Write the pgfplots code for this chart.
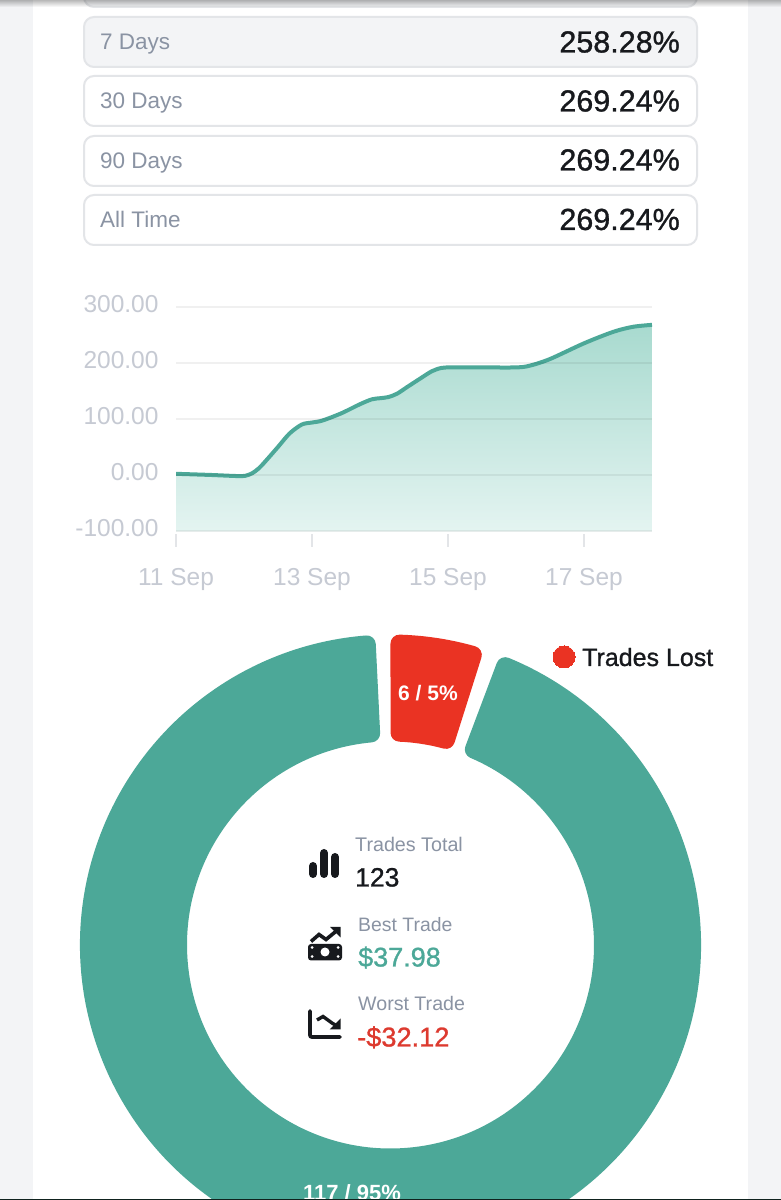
\documentclass[border=0pt]{standalone}
\usepackage{fontspec}
\setmainfont{Liberation Sans}
\newfontfamily\med[FakeBold=1]{Liberation Sans}
\usepackage{pgfplots}
\pgfplotsset{compat=1.18}
\usepackage{pgfplotstable}
\usetikzlibrary{fadings}
\definecolor{teal1}{HTML}{4CA898}
\definecolor{red1}{HTML}{EA3323}
\definecolor{redt}{HTML}{DD3A2F}
\definecolor{greyt}{HTML}{8A93A3}
\definecolor{axt}{HTML}{C6CAD3}
\definecolor{ink}{HTML}{17191D}
\definecolor{pagebg}{HTML}{F3F4F6}
\definecolor{boxln}{HTML}{E3E5E8}
\definecolor{shtop}{HTML}{A8DACF}
\definecolor{shbot}{HTML}{E4F4F1}
\pgfplotstableread{
d v
0 3
0.5 1
0.9 -1
1.02 -0.5
1.12 4
1.22 13
1.32 26
1.5 51
1.67 75
1.85 91
2 94.6
2.15 98
2.43 111
2.7 127
2.88 136
3 138
3.12 140
3.25 146
3.4 158
3.59 173
3.76 186
3.9 192
4.05 193
4.5 193
5 193
5.2 196
5.5 208
6 236
6.43 256.5
6.72 265.5
7 269
}\curvedata
\newcommand\T[6][base west]{\node[anchor=#1,inner sep=0pt,text=#5] at (#2,#3) {\fontsize{#4}{#4}\selectfont #6};}
\newcommand\seg[3]{%
 \pgfmathsetmacro\ta{90-(#2+1.71)}%
 \pgfmathsetmacro\tb{90-(#3-1.71)}%
 \pgfmathsetmacro\tc{90-(#3-2.43)}%
 \pgfmathsetmacro\td{90-(#2+2.43)}%
 \pgfmathsetmacro\xa{390.5+301.5*cos(\ta)}%
 \pgfmathsetmacro\ya{255+301.5*sin(\ta)}%
 \pgfmathsetmacro\xc{390.5+212.5*cos(\tc)}%
 \pgfmathsetmacro\yc{255+212.5*sin(\tc)}%
 \edef\temp{\noexpand\path[fill=#1,draw=#1,line width=18pt,line join=round] (axis cs:\xa,\ya) arc[start angle=\ta,end angle=\tb,radius=301.5pt] -- (axis cs:\xc,\yc) arc[start angle=\tc,end angle=\td,radius=212.5pt] -- cycle;}\temp}
\begin{document}
\begin{tikzpicture}[x=1pt,y=1pt]
\path[use as bounding box] (0,0) rectangle (781,1200);
\clip (0,0) rectangle (781,1200);
\fill[pagebg] (0,0) rectangle (781,1200);
\fill[white] (33,0) rectangle (748,1200);
\begin{scope}[shift={(0,1200)},yscale=-1]
 \foreach \a/\b/\c in {-30/7/pagebg,17/67/pagebg,76/126/white,136/186/white,195/245/white}{
  \path[fill=\c,draw=boxln,line width=2pt,rounded corners=10pt] (84,\a) rectangle (697,\b);
 }
 \T{100}{50}{22.5}{greyt}{7 Days}
 \T{100}{109}{22.5}{greyt}{30 Days}
 \T{100}{168.5}{22.5}{greyt}{90 Days}
 \T{100}{228}{22.5}{greyt}{All Time}
 \T[base east]{680}{52.5}{30.5}{ink}{\med 258.28\%}
 \T[base east]{680}{111.5}{30.5}{ink}{\med 269.24\%}
 \T[base east]{680}{170.5}{30.5}{ink}{\med 269.24\%}
 \T[base east]{680}{230}{30.5}{ink}{\med 269.24\%}
 \fill[black,opacity=.28,path fading=south] (0,0) rectangle (781,7);
\end{scope}
% line chart
\begin{axis}[at={(176pt,668.5pt)},anchor=south west,width=476pt,height=224pt,scale only axis,
 xmin=0,xmax=7,ymin=-100,ymax=300,axis on top,
 axis line style={draw=none},
 xtick={0,2,4,6},xticklabels={11 Sep,13 Sep,15 Sep,17 Sep},
 ytick={-100,0,100,200,300},yticklabels={-100.00,0.00,100.00,200.00,300.00},
 tick label style={text=axt,font=\fontsize{24.5}{24.5}\selectfont},
 xtick pos=bottom,ytick pos=left,tick align=outside,
 major tick length=13pt,
 xtick style={draw=boxln,line width=2pt,yshift=-2.5pt},
 ytick style={draw=none},
 xticklabel style={yshift=-20pt},
 yticklabel style={xshift=-1pt,yshift=3.5pt},
 ymajorgrids,grid style={draw=black,opacity=.06,line width=2pt}]
\addplot[draw=none,smooth,top color=shtop,bottom color=shbot] table[x=d,y=v]{\curvedata} -- (axis cs:7,-100) -- (axis cs:0,-100) -- cycle;
\addplot[teal1,line width=4pt,smooth] table[x=d,y=v]{\curvedata};
\end{axis}
% doughnut
\begin{axis}[at={(0pt,0pt)},anchor=south west,width=781pt,height=1200pt,scale only axis,hide axis,
 xmin=0,xmax=781,ymin=0,ymax=1200]
\pgfmathsetmacro\redspan{6/123*360}
\seg{red1}{0}{\redspan}
\pgfmathsetmacro\tealstart{\redspan+3.1}
\seg{teal1}{\tealstart}{357.2}
\addplot[only marks,mark=*,mark size=11pt,mark options={fill=red1,draw=red1,line width=0pt}] coordinates {(564,543)};
\end{axis}
\begin{scope}[shift={(0,1200)},yscale=-1]
 \T{582}{666}{25}{ink}{\med Trades Lost}
 \T[base]{428}{700.5}{21}{white}{\bfseries 6 / 5\%}
 \T[base]{352}{1200.5}{22}{white}{\bfseries 117 / 95\%}
 \T{355}{851.5}{19.7}{greyt}{Trades Total}
 \T{355}{886.5}{26.5}{ink}{\med 123}
 \T{358}{931.5}{19.4}{greyt}{Best Trade}
 \T{358}{966.5}{27}{teal1}{\med \$37.98}
 \T{358}{1011}{19.6}{greyt}{Worst Trade}
 \T{357}{1046.5}{27.2}{redt}{\med -\$32.12}
 % bar icon
 \draw[ink,line width=8pt,line cap=round] (313,866)--(313,874) (324,853)--(324,874) (335,857)--(335,874);
 % best trade icon
 \fill[ink,rounded corners=3pt] (308,944) rectangle (342,960.5);
 \fill[white] (325,952) circle (4.5);
 \fill[white] (312,947.5) circle (1.5) (312,956.5) circle (1.5) (338,947.5) circle (1.5) (338,956.5) circle (1.5);
 \draw[ink,line width=3.6pt,line join=miter] (311,941.5)--(319,934.5)--(326,939.5)--(337,930.5);
 \fill[ink] (330,927)--(340.5,927)--(340.5,937.5)--cycle;
 % worst trade icon
 \draw[ink,line width=3.8pt,line cap=round,rounded corners=2pt] (310,1011)--(310,1037)--(340,1037);
 \draw[ink,line width=3.4pt] (317,1020)--(323,1016.5)--(332,1023)--(337,1026);
 \fill[ink] (340.5,1018.5)--(340.5,1029.5)--(329.5,1029.5)--cycle;
 % bottom line
 \fill[black!80!teal1] (0,1198.8) rectangle (781,1200);
\end{scope}
\end{tikzpicture}
\end{document}
